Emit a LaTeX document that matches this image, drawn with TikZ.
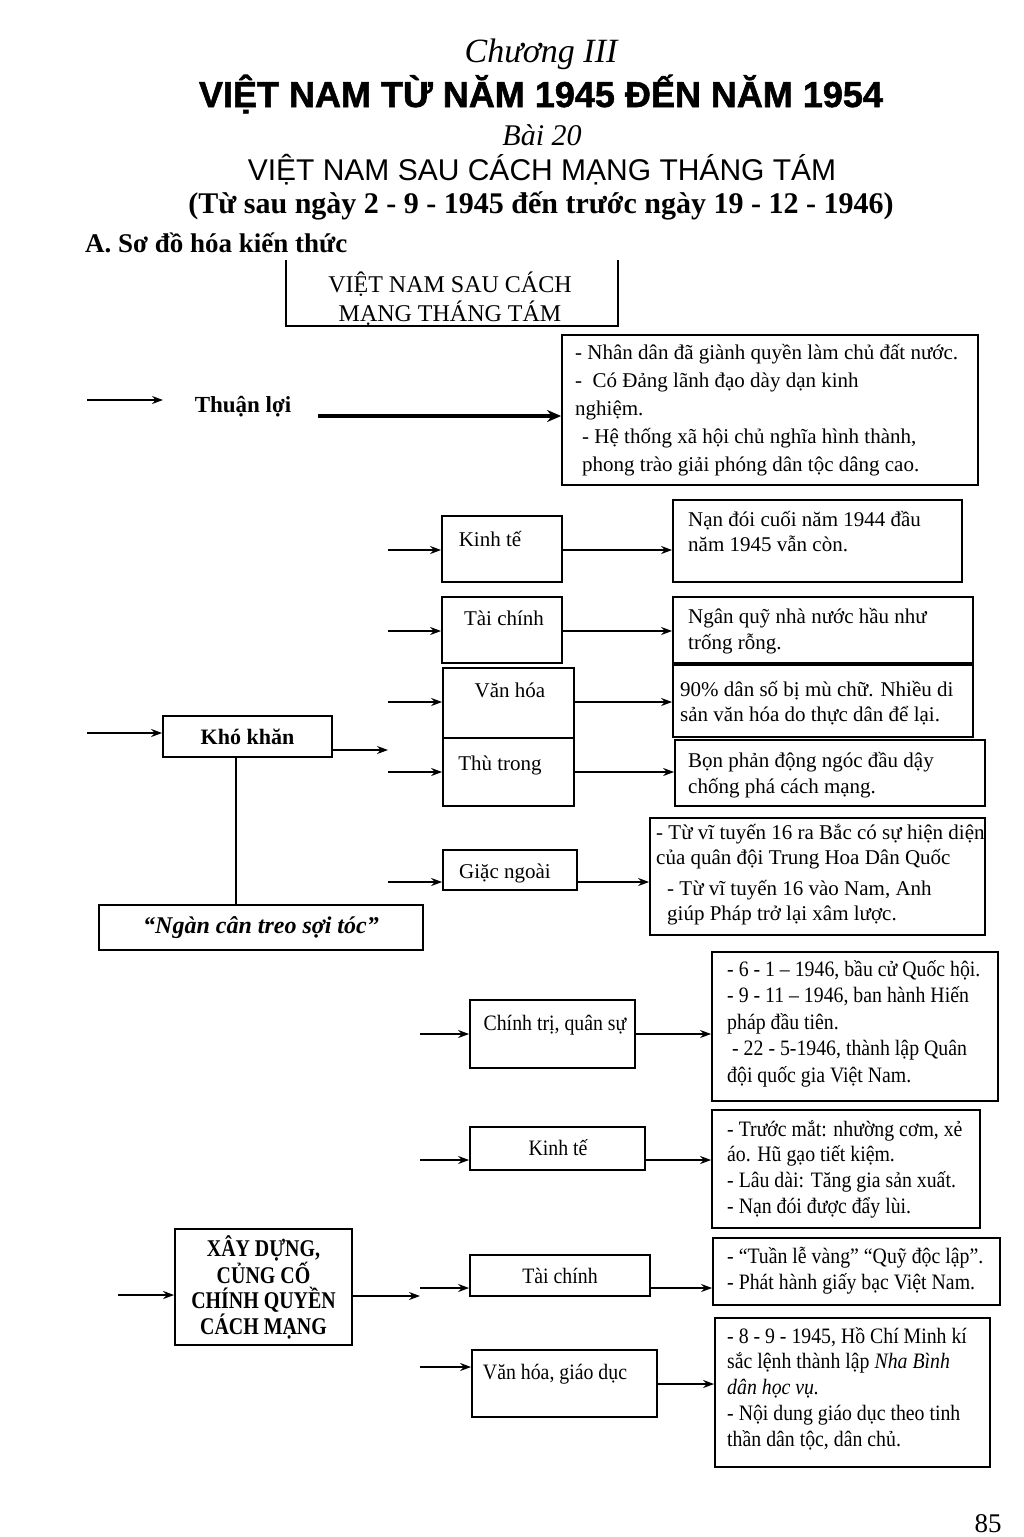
\documentclass[tikz,border=0pt]{standalone}
\usepackage{fontspec}
\setmainfont{Liberation Serif}
\newfontfamily\hsans{Liberation Sans}
\newfontfamily\heavy{Liberation Sans}[BoldFeatures={FakeBold=1.5}]
\newfontfamily\cond{Liberation Serif}[FakeStretch=0.9]
\newfontfamily\condx{Liberation Serif}[FakeStretch=0.83]
\usetikzlibrary{arrows.meta}
\begin{document}
\begin{tikzpicture}[x=1pt,y=-1pt,
 bx/.style={draw, line width=1.8pt, inner sep=0pt},
 arr/.style={line width=1.6pt,-{Stealth[length=11pt,width=8pt]}},
 txt/.style={inner sep=0pt, align=left, anchor=north west},
 lbl/.style={inner sep=0pt, anchor=base},
 up/.style={font=\fontsize{21}{#1}\selectfont},
 lo/.style={font=\cond\fontsize{22}{#1}\selectfont}]
\fill[white] (0,0) rectangle (1024,1537);
\useasboundingbox (0,0) rectangle (1024,1537);

% headings
\node[lbl,font=\fontsize{34}{34}\selectfont\itshape] (h1) at (541,62) {Chương III};
\node[lbl,font=\heavy\bfseries\fontsize{36}{36}\selectfont] (h2) at (541,107) {VIỆT NAM TỪ NĂM 1945 ĐẾN NĂM 1954};
\node[lbl,font=\fontsize{30}{30}\selectfont\itshape] (h3) at (542,145) {Bài 20};
\node[lbl,font=\hsans\fontsize{30}{30}\selectfont] (h4) at (542,180) {VIỆT NAM SAU CÁCH MẠNG THÁNG TÁM};
\node[lbl,font=\bfseries\fontsize{30}{30}\selectfont] (h5) at (541,213) {(Từ sau ngày 2 - 9 - 1945 đến trước ngày 19 - 12 - 1946)};
\node[lbl,anchor=base west,font=\bfseries\fontsize{27}{27}\selectfont] (h6) at (85,252) {A. Sơ đồ hóa kiến thức};

% top box
\node[minimum width=332pt, minimum height=66pt, inner sep=0pt] (top) at (452,293) {};
\draw[line width=1.8pt] (top.north west) -- (top.south west) -- (top.south east) -- (top.north east);
\node[inner sep=0pt, align=center, anchor=north, font=\fontsize{24}{25}\selectfont] (topT) at (450,271.5) {\strut VIỆT NAM SAU CÁCH\\MẠNG THÁNG TÁM};

% Thuan loi
\coordinate (t0) at (87,400);
\coordinate (t1) at (163,400);
\draw[arr, line width=1.2pt] (t0) -- (t1);
\node[lbl, font=\bfseries\fontsize{23}{23}\selectfont] (tl) at (243,412) {Thuận lợi};
\node[bx, minimum width=416pt, minimum height=150pt] (thl) at (770,410) {};
\node[txt, up=28] (thlT) at (575,339.4) {\strut - Nhân dân đã giành quyền làm chủ đất nước.\\
-\ \ Có Đảng lãnh đạo dày dạn kinh\\
nghiệm.\\
\hspace{7pt}- Hệ thống xã hội chủ nghĩa hình thành,\\
\hspace{7pt}phong trào giải phóng dân tộc dâng cao.};
\coordinate (ts) at (318,416);
\draw[line width=4.5pt, -{Stealth[length=14pt,width=12pt]}] (ts) -- (thl.west |- ts);

% Kho khan
\coordinate (k0) at (87,733);
\node[bx, minimum width=169pt, minimum height=41pt, font=\bfseries\fontsize{22}{22}\selectfont] (kk) at (247.5,736.5) {Khó khăn};
\draw[arr] (k0) -- (kk.west |- k0);
\coordinate (kke) at (388,750);
\draw[arr] (kk.east |- kke) -- (kke);
\node[bx, minimum width=324pt, minimum height=45pt, font=\bfseries\itshape\fontsize{24}{24}\selectfont] (ngan) at (261,927.5) {“Ngàn cân treo sợi tóc”};
\draw[line width=1.4pt] ([xshift=-11.5pt]kk.south) -- ([xshift=-11.5pt]kk.south |- ngan.north);

% Kinh te
\node[bx, minimum width=120pt, minimum height=66pt] (kt1) at (502,549) {};
\node[lbl, up=21] (kt1T) at (490,546) {Kinh tế};
\node[bx, minimum width=289pt, minimum height=82pt] (ktr) at (817.5,541) {};
\node[txt, up=25] (ktrT) at (688,508.5) {\strut Nạn đói cuối năm 1944 đầu\\năm 1945 vẫn còn.};
\coordinate (ki1) at (388,550);
\draw[arr] (ki1) -- (kt1.west |- ki1);
\draw[arr] (kt1.east |- ki1) -- (ktr.west |- ki1);

% Tai chinh
\node[bx, minimum width=120pt, minimum height=66pt] (tc1) at (502,630) {};
\node[lbl, up=21] (tc1T) at (504,625) {Tài chính};
\node[bx, minimum width=300pt, minimum height=66pt] (tcr) at (823,630) {};
\node[txt, up=26] (tcrT) at (688,604.8) {\strut Ngân quỹ nhà nước hầu như\\trống rỗng.};
\coordinate (ki2) at (388,631);
\draw[arr] (ki2) -- (tc1.west |- ki2);
\draw[arr] (tc1.east |- ki2) -- (tcr.west |- ki2);

% Van hoa
\node[bx, minimum width=131pt, minimum height=70pt] (vh1) at (508.5,703) {};
\node[lbl, up=21] (vh1T) at (510,697) {Văn hóa};
\node[bx, minimum width=300pt, minimum height=72pt] (vhr) at (823,701) {};
\node[txt, up=25] (vhrT) at (680,678.5) {\strut 90\% dân số bị mù chữ. Nhiều di\\sản văn hóa do thực dân để lại.};
\coordinate (ki3) at (388,702);
\draw[arr] (ki3) -- (vh1.west |- ki3);
\draw[arr] (vh1.east |- ki3) -- (vhr.west |- ki3);

% Thu trong
\node[bx, minimum width=131pt, minimum height=68pt] (tt1) at (508.5,772) {};
\node[lbl, up=21] (tt1T) at (500,770) {Thù trong};
\node[bx, minimum width=310pt, minimum height=66pt] (ttr) at (830,773) {};
\node[txt, up=26] (ttrT) at (688,748.8) {\strut Bọn phản động ngóc đầu dậy\\chống phá cách mạng.};
\coordinate (ki4) at (388,772);
\draw[arr] (ki4) -- (tt1.west |- ki4);
\draw[arr] (tt1.east |- ki4) -- (ttr.west |- ki4);

% Giac ngoai
\node[bx, minimum width=134pt, minimum height=40pt] (gn1) at (510,870) {};
\node[lbl, up=21] (gn1T) at (505,878) {Giặc ngoài};
\node[bx, minimum width=335pt, minimum height=117pt] (gnr) at (817.5,876.5) {};
\node[txt, up=25] (gnrT) at (656,821.5) {\strut - Từ vĩ tuyến 16 ra Bắc có sự hiện diện\\
của quân đội Trung Hoa Dân Quốc\\[6pt]
\hspace{11pt}- Từ vĩ tuyến 16 vào Nam, Anh\\
\hspace{11pt}giúp Pháp trở lại xâm lược.};
\coordinate (ki5) at (388,882);
\draw[arr] (ki5) -- (gn1.west |- ki5);
\draw[arr] (gn1.east |- ki5) -- (gnr.west |- ki5);

% Xay dung
\coordinate (x0) at (118,1295);
\node[bx, minimum width=177pt, minimum height=116pt, align=center, font=\condx\bfseries\fontsize{24}{25.5}\selectfont] (xd) at (263.5,1287) {XÂY DỰNG,\\CỦNG CỐ\\CHÍNH QUYỀN\\CÁCH MẠNG};
\draw[arr] (x0) -- (xd.west |- x0);
\coordinate (xde) at (420,1296);
\draw[arr] (xd.east |- xde) -- (xde);

% Chinh tri
\node[bx, minimum width=165pt, minimum height=68pt] (ct) at (552.5,1034) {};
\node[lbl, lo=22] (ctT) at (555,1030) {Chính trị, quân sự};
\node[bx, minimum width=286pt, minimum height=149pt] (ctr) at (855,1026.5) {};
\node[txt, lo=26.5] (ctrT) at (727,957.5) {\strut - 6 - 1 – 1946, bầu cử Quốc hội.\\
- 9 - 11 – 1946, ban hành Hiến\\
pháp đầu tiên.\\
\hspace{5pt}- 22 - 5-1946, thành lập Quân\\
đội quốc gia Việt Nam.};
\coordinate (xi1) at (420,1034);
\draw[arr] (xi1) -- (ct.west |- xi1);
\draw[arr] (ct.east |- xi1) -- (ctr.west |- xi1);

% Kinh te 2
\node[bx, minimum width=175pt, minimum height=43pt] (kt2) at (557.5,1148.5) {};
\node[lbl, lo=22] (kt2T) at (558,1155) {Kinh tế};
\node[bx, minimum width=268pt, minimum height=118pt] (kt2r) at (846,1169) {};
\node[txt, lo=25.7] (kt2rT) at (727,1118) {\strut - Trước mắt: nhường cơm, xẻ\\
áo. Hũ gạo tiết kiệm.\\
- Lâu dài: Tăng gia sản xuất.\\
- Nạn đói được đẩy lùi.};
\coordinate (xi2) at (420,1160);
\draw[arr] (xi2) -- (kt2.west |- xi2);
\draw[arr] (kt2.east |- xi2) -- (kt2r.west |- xi2);

% Tai chinh 2
\node[bx, minimum width=180pt, minimum height=41pt] (tc2) at (560,1275.5) {};
\node[lbl, lo=22] (tc2T) at (560,1283) {Tài chính};
\node[bx, minimum width=287pt, minimum height=67pt] (tc2r) at (856.5,1271.5) {};
\node[txt, lo=26] (tc2rT) at (727,1244.8) {\strut - “Tuần lễ vàng” “Quỹ độc lập”.\\
- Phát hành giấy bạc Việt Nam.};
\coordinate (xi3) at (420,1288);
\draw[arr] (xi3) -- (tc2.west |- xi3);
\draw[arr] (tc2.east |- xi3) -- (tc2r.west |- xi3);

% Van hoa giao duc
\node[bx, minimum width=185pt, minimum height=67pt] (vh2) at (564.5,1383.5) {};
\node[lbl, lo=22] (vh2T) at (555,1379) {Văn hóa, giáo dục};
\node[bx, minimum width=275pt, minimum height=149pt] (vh2r) at (852.5,1392.5) {};
\node[txt, lo=25.7] (vh2rT) at (727,1325) {\strut - 8 - 9 - 1945, Hồ Chí Minh kí\\
sắc lệnh thành lập \textit{Nha Bình}\\
\textit{dân học vụ.}\\
- Nội dung giáo dục theo tinh\\
thần dân tộc, dân chủ.};
\coordinate (xi4) at (420,1367);
\coordinate (xo4) at (420,1384);
\draw[arr] (xi4) -- (vh2.west |- xi4);
\draw[arr] (vh2.east |- xo4) -- (vh2r.west |- xo4);

\node[lbl, font=\fontsize{27}{27}\selectfont] (pg) at (988,1532) {85};
\end{tikzpicture}
\end{document}
